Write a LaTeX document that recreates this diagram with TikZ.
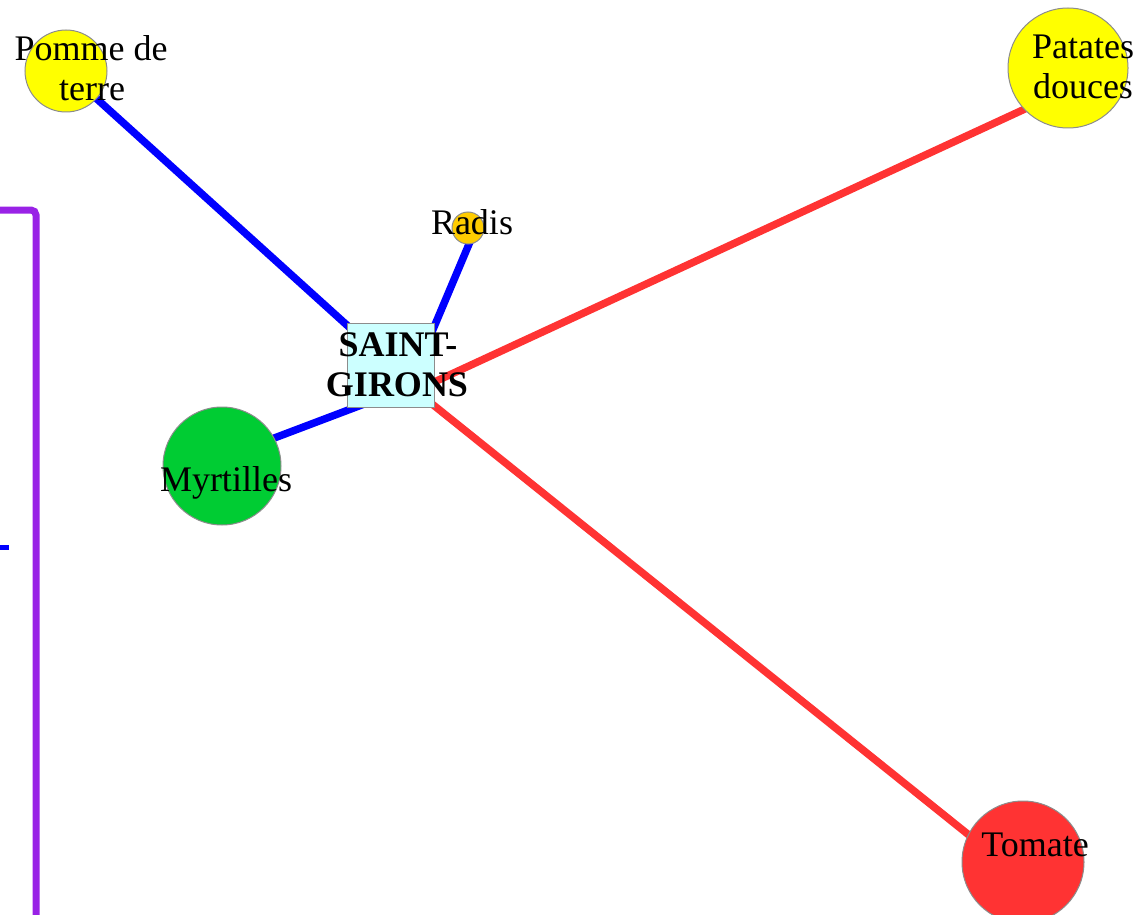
\documentclass[tikz,border=0pt]{standalone}
\usepackage{fontspec}
\setmainfont{Liberation Serif}
\definecolor{eblue}{RGB}{0,0,255}
\definecolor{ered}{RGB}{255,51,51}
\definecolor{ngreen}{RGB}{0,204,51}
\definecolor{nyellow}{RGB}{255,255,0}
\definecolor{ngold}{RGB}{255,204,0}
\definecolor{boxfill}{RGB}{204,255,255}
\definecolor{purp}{RGB}{153,34,230}
\definecolor{rim}{RGB}{140,140,140}
\begin{document}
\begin{tikzpicture}[x=1pt,y=-1pt,
  circ/.style={circle,draw=rim,line width=1pt,inner sep=0pt},
  lbl/.style={anchor=base,inner sep=0pt,font=\fontsize{36}{40}\selectfont},
  blbl/.style={lbl,font=\fontsize{36}{40}\selectfont\bfseries},
  bedge/.style={eblue,line width=7.5pt},
  redge/.style={ered,line width=7.5pt}]
\useasboundingbox (0,0) rectangle (1138,915);
\clip (0,0) rectangle (1138,915);
% frame on the left
\coordinate (pa) at (0,210);
\coordinate (pb) at (36,210);
\coordinate (pc) at (36,925);
\draw[purp,line width=7pt,rounded corners=5pt] (pa) -- (pb) -- (pc);
\coordinate (t1) at (0,547);
\coordinate (t2) at (9,547);
\draw[eblue,line width=5pt] (t1) -- (t2);
% edge end points
\coordinate (sgP) at (391,365);
\coordinate (sgR) at (418,365);
\coordinate (radE) at (472,237);
\coordinate (sgM) at (380,398);
\coordinate (myrE) at (240,451);
\coordinate (sgD) at (391,402);
\coordinate (patE) at (1040,102);
\coordinate (sgT) at (391,371);
\coordinate (tomE) at (1000,860);
\coordinate (pomE) at (66,71);
% edges
\draw[bedge] (sgP) -- (pomE);
\draw[bedge] (sgR) -- (radE);
\draw[bedge] (sgM) -- (myrE);
\draw[redge] (sgD) -- (patE);
\draw[redge] (sgT) -- (tomE);
% nodes
\node[circ,fill=nyellow,minimum size=82pt] (pomme) at (66,71) {};
\node[circ,fill=nyellow,minimum size=120pt] (patates) at (1068,68) {};
\node[circ,fill=ngold,minimum size=32pt] (radis) at (468,228) {};
\node[circ,fill=ngreen,minimum size=118pt] (myrt) at (222,466) {};
\node[circ,fill=ered,minimum size=122pt] (tomate) at (1023,862) {};
\node[draw=rim,line width=1pt,fill=boxfill,minimum width=87pt,minimum height=84pt,inner sep=0pt] (sg) at (391,365) {};
% labels
\node[lbl] (pommeL1) at (91,61) {Pomme de};
\node[lbl] (pommeL2) at (92,101) {terre};
\node[lbl] (patL1) at (1083,59) {Patates};
\node[lbl] (patL2) at (1083,99) {douces};
\node[lbl] (radL) at (472,234) {Radis};
\node[lbl] (myrL) at (226,491) {Myrtilles};
\node[lbl] (tomL) at (1035,856) {Tomate};
\node[blbl] (sgL1) at (398,356) {SAINT-};
\node[blbl] (sgL2) at (397,396) {GIRONS};
\end{tikzpicture}
\end{document}
